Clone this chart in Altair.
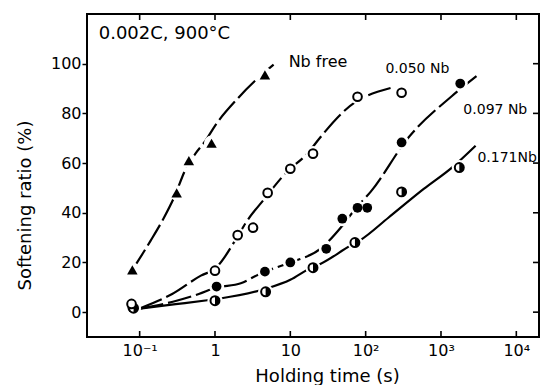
import altair as alt
import pandas as pd

# ---- measured points ----
nbfree_t = [0.08, 0.31, 0.45, 0.9, 4.6]
nbfree_r = [17, 48, 61, 68, 95.5]
nb050_t = [0.078, 1.0, 2.0, 3.2, 5.0, 10, 20, 78, 300]
nb050_r = [3.3, 16.7, 31, 34, 48, 57.7, 63.8, 86.7, 88.3]
nb097_t = [0.08, 1.05, 4.6, 10, 30, 49, 78, 105, 300, 1800]
nb097_r = [1.8, 10.3, 16.3, 20, 25.5, 37.6, 42, 42, 68.3, 92]
nb171_t = [0.083, 1.0, 4.7, 20, 72, 300, 1750]
nb171_r = [1.6, 4.6, 8.2, 17.9, 28, 48.4, 58.2]

# ---- hand-drawn curves ----
cfree_t = [0.08, 0.14, 0.21, 0.285, 0.41, 0.55, 0.75, 1.0, 2.0, 3.6, 6.0]
cfree_r = [17, 28.8, 38, 46, 57.7, 63.8, 69, 75, 86, 93.8, 99.6]
c050_t = [0.1, 0.27, 0.65, 1.0, 2.0, 2.57, 4.5, 8.7, 17.4, 24, 72, 100, 214]
c050_r = [1.5, 7.3, 14.7, 17.5, 30.5, 36, 45.5, 56, 64.3, 69.7, 84.4, 86.8, 90.2]
c097_t = [0.1, 0.3, 0.61, 1.02, 2.2, 3.8, 6, 10, 25, 49, 75, 117, 370, 1400, 2960]
c097_r = [1.4, 4.5, 7.3, 9.8, 11.6, 15.2, 17.6, 20, 25.5, 34.8, 42, 48.5, 70.3, 87, 95]
c171_t = [0.1, 0.3, 0.79, 1.17, 3.8, 5.1, 10, 17.6, 25, 63, 85, 200, 590, 1410, 2880]
c171_r = [1.4, 3.2, 4.8, 5.5, 8.6, 9.7, 13, 17.4, 19.4, 26.8, 29, 38, 49.6, 58.3, 67]

# ---- annotations ----
ann_text = ["0.002C, 900°C", "Nb free", "0.050 Nb", "0.097 Nb", "0.171Nb"]
ann_t = [0.0286, 9.5, 183, 1982, 3041]
ann_r = [110, 98.8, 96.4, 79.9, 60.6]
ann_size = [18, 16, 14, 14, 14]

x_tick_values = [0.1, 1, 10, 100, 1000, 10000]
x_tick_labels = ["10⁻¹", "1", "10", "10²", "10³", "10⁴"]
y_tick_values = [0, 20, 40, 60, 80, 100]

X_MIN, X_MAX = 0.02, 20000
Y_MIN, Y_MAX = -10, 120

FONT = "DejaVu Sans"
W, H = 452, 323
TK = 6  # inward tick length in px

def frame(t, r, name):
    return pd.DataFrame({"t": t, "r": r, "s": name})

curves = pd.concat([
    frame(cfree_t, cfree_r, "free"),
    frame(c050_t, c050_r, "050"),
    frame(c097_t, c097_r, "097"),
    frame(c171_t, c171_r, "171"),
])
pts_free = frame(nbfree_t, nbfree_r, "free")
pts_050 = frame(nb050_t, nb050_r, "050")
pts_097 = frame(nb097_t, nb097_r, "097")
pts_171 = frame(nb171_t, nb171_r, "171")
all_pts = pd.concat([pts_free, pts_050, pts_097, pts_171])
ann = pd.DataFrame({"label": ann_text, "t": ann_t, "r": ann_r, "fs": ann_size})

# tick-length in data units (for inward frame ticks)
dy = TK * (Y_MAX - Y_MIN) / H
xfac = (X_MAX / X_MIN) ** (TK / W)
xt_bottom = pd.DataFrame({"t": x_tick_values, "r": [Y_MIN] * 6, "r2": [Y_MIN + dy] * 6})
xt_top = pd.DataFrame({"t": x_tick_values, "r": [Y_MAX] * 6, "r2": [Y_MAX - dy] * 6})
yt_right = pd.DataFrame({"r": y_tick_values, "t": [X_MAX] * 6, "t2": [X_MAX / xfac] * 6})

xscale = alt.Scale(type="log", domain=[X_MIN, X_MAX], nice=False)
yscale = alt.Scale(domain=[Y_MIN, Y_MAX], nice=False, zero=False)

label_expr = " : ".join(
    [f"datum.value == {v} ? '{l}'" for v, l in zip(x_tick_values[:-1], x_tick_labels[:-1])]
) + f" : '{x_tick_labels[-1]}'"

x_bottom = alt.Axis(orient="bottom", values=x_tick_values, labelExpr=label_expr,
                    ticks=False, domain=False, grid=False,
                    labelFont=FONT, labelFontSize=16, labelColor="black", labelPadding=5,
                    title="Holding time (s)", titleFont=FONT, titleFontSize=18,
                    titleFontWeight="normal", titleColor="black",
                    titleX=240, titleY=44, titleAlign="center", titleBaseline="alphabetic")
y_left = alt.Axis(orient="left", values=y_tick_values, tickSize=5, tickWidth=1.5, tickColor="black",
                  domain=False, grid=False, labelFont=FONT, labelFontSize=16,
                  labelColor="black", labelPadding=1,
                  title="Softening ratio (%)", titleFont=FONT, titleFontSize=18,
                  titleFontWeight="normal", titleColor="black", titleAngle=270,
                  titleX=-62, titleY=191, titleAlign="center", titleBaseline="middle")

X = lambda: alt.X("t:Q", scale=xscale, axis=x_bottom)
Y = lambda: alt.Y("r:Q", scale=yscale, axis=y_left)

dashed = alt.Chart(curves).transform_filter("datum.s != '171'").mark_line(
    color="black", strokeWidth=2.2, strokeDash=[24, 5], interpolate="monotone"
).encode(x=X(), y=Y(), detail="s:N")

solid = alt.Chart(curves).transform_filter("datum.s == '171'").mark_line(
    color="black", strokeWidth=2.2, interpolate="monotone"
).encode(x=X(), y=Y())

halo = alt.Chart(all_pts).mark_point(shape="circle", filled=True, color="white",
                                     opacity=1, size=230).encode(x=X(), y=Y())

tri = alt.Chart(pts_free).mark_point(shape="triangle-up", filled=True, color="black",
                                     opacity=1, size=110).encode(x=X(), y=Y())
filled = alt.Chart(pts_097).mark_point(shape="circle", filled=True, color="black",
                                       opacity=1, size=95).encode(x=X(), y=Y())
half_bg = alt.Chart(pts_171).mark_point(shape="circle", fill="white", stroke="black",
                                        strokeWidth=2, opacity=1, size=80).encode(x=X(), y=Y())
half_fg = alt.Chart(pts_171).mark_point(shape="M0,-1A1,1,0,0,1,0,1Z", filled=True,
                                        color="black", opacity=1, size=80).encode(x=X(), y=Y())
opened = alt.Chart(pts_050).mark_point(shape="circle", fill="white", stroke="black",
                                       strokeWidth=2, opacity=1, size=75).encode(x=X(), y=Y())

texts = alt.Chart(ann).mark_text(font=FONT, align="left", baseline="alphabetic",
                                 color="black").encode(
    x=X(), y=Y(), text="label:N", size=alt.Size("fs:Q", scale=None, legend=None))

# inward ticks on bottom, top and right edges (through the scales)
tick_bottom = alt.Chart(xt_bottom).mark_rule(color="black", strokeWidth=1.6).encode(
    x=X(), y=Y(), y2="r2:Q")
tick_top = alt.Chart(xt_top).mark_rule(color="black", strokeWidth=1.6).encode(
    x=X(), y=Y(), y2="r2:Q")
tick_right = alt.Chart(yt_right).mark_rule(color="black", strokeWidth=1.6).encode(
    x=X(), x2="t2:Q", y=Y())

box = alt.Chart(pts_free.head(1)).mark_rect(fill=None, stroke="black", strokeWidth=2).encode(
    x=alt.value(0), x2=alt.value(W), y=alt.value(0), y2=alt.value(H))

chart = alt.layer(dashed, solid, halo, tri, filled, half_bg, half_fg, opened, texts,
                  tick_bottom, tick_top, tick_right, box).properties(
    width=W, height=H,
    autosize=alt.AutoSizeParams(type="none"),
    padding={"left": 87, "top": 14, "right": 6, "bottom": 48},
).configure(background="white")

chart.save("out.html", embed_options={"renderer": "svg", "actions": False})
